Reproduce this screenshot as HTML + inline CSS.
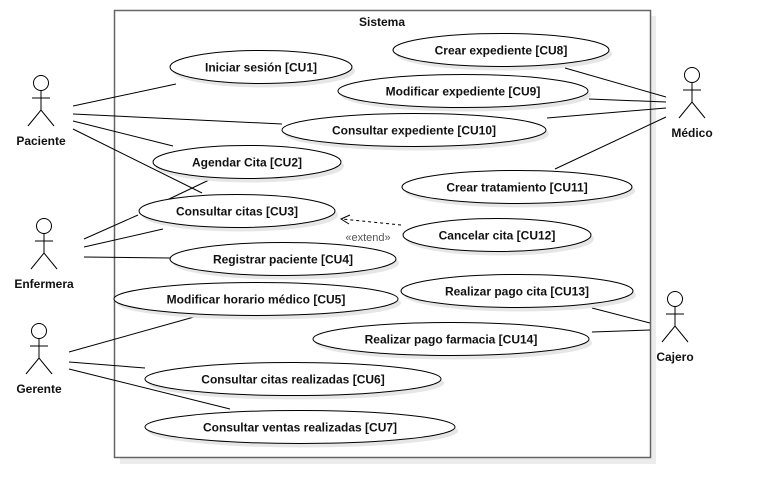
<!DOCTYPE html>
<html><head><meta charset="utf-8"><style>
html,body{margin:0;padding:0;background:#fff;}
svg text{font-family:"Liberation Sans",sans-serif;}
</style></head><body>
<svg width="759" height="498" viewBox="0 0 759 498" xmlns="http://www.w3.org/2000/svg">
<rect x="120" y="16" width="536" height="448" fill="#ececec"/>
<rect x="114.5" y="10.5" width="536" height="447" fill="#fff" stroke="#666" stroke-width="1.5"/>
<text x="382" y="26" text-anchor="middle" font-size="12" font-weight="bold" fill="#111">Sistema</text>
<g id="lines" stroke="#000" stroke-width="1" fill="none">
<line x1="73" y1="106" x2="176" y2="84"/>
<line x1="73" y1="114" x2="282" y2="124"/>
<line x1="73" y1="121" x2="173" y2="146"/>
<line x1="73" y1="129" x2="202" y2="193"/>
<line x1="84" y1="239" x2="138" y2="215"/>
<line x1="167" y1="200" x2="209" y2="180"/>
<line x1="84" y1="247" x2="163" y2="229"/>
<line x1="84" y1="257" x2="170" y2="258"/>
<line x1="69" y1="352" x2="194" y2="317"/>
<line x1="69" y1="362" x2="145" y2="368"/>
<line x1="69" y1="369" x2="230" y2="409"/>
<line x1="565" y1="68" x2="666" y2="97"/>
<line x1="589" y1="99" x2="666" y2="102"/>
<line x1="547" y1="118" x2="666" y2="108"/>
<line x1="555" y1="169" x2="666" y2="117"/>
<line x1="592" y1="308" x2="650" y2="323"/>
<line x1="592" y1="332" x2="650" y2="330"/>
</g>
<g id="ucs"></g>
<g>
<line x1="401" y1="225" x2="342" y2="219" stroke="#000" stroke-dasharray="3,3"/>
<polyline points="350,215 341,219 349,224" fill="none" stroke="#000"/>
<text x="368" y="241" text-anchor="middle" font-size="11" fill="#555">«extend»</text>
</g>
<g id="actors"></g>
</svg>
<script>
const ucLabels=["Iniciar sesión [CU1]","Crear expediente [CU8]","Modificar expediente [CU9]","Consultar expediente [CU10]","Agendar Cita [CU2]","Crear tratamiento [CU11]","Consultar citas [CU3]","Cancelar cita [CU12]","Registrar paciente [CU4]","Modificar horario médico [CU5]","Realizar pago cita [CU13]","Realizar pago farmacia [CU14]","Consultar citas realizadas [CU6]","Consultar ventas realizadas [CU7]"];
const ucCx=[261,501,463,414,247,517,237,497,283,256,517,451,293,300];
const ucCy=[67,50,91,130,162,187,211,235,259,299,291,339,379,427];
const ucRx=[91,108,125,132,94,115,98,94,113,142,116,138,148,155];
const actorNames=["Paciente","Enfermera","Gerente","Médico","Cajero"];
const actorX=[41,44,39,692,675];
const actorY=[83,226,331,75,299];
const NS="http://www.w3.org/2000/svg";
function mk(t,a,p){const e=document.createElementNS(NS,t);for(const k in a)e.setAttribute(k,a[k]);p.appendChild(e);return e;}
const ug=document.getElementById('ucs');
ucLabels.forEach((l,i)=>{
 const g=mk('g',{},ug);
 
 
 const s=mk('ellipse',{cx:ucCx[i]+3,cy:ucCy[i]+4,rx:ucRx[i],ry:16.5,fill:'#e6e6e6'},g);
 
 
 const e=mk('ellipse',{cx:ucCx[i],cy:ucCy[i],rx:ucRx[i],ry:16.5,fill:'#fff',stroke:'#000','stroke-width':1},g);
 
 
 const t=mk('text',{x:ucCx[i],y:ucCy[i]+4.5,'text-anchor':'middle','font-size':12,'font-weight':'bold',fill:'#111'},g);
 
 
 t.textContent=l;
});
const ag=document.getElementById('actors');
actorNames.forEach((n,i)=>{
 const x=actorX[i],y=actorY[i];
 const g=mk('g',{stroke:'#000',fill:'none','stroke-width':1},ag);
 
 
 mk('circle',{cx:x,cy:y,r:7.5,fill:'#fff'},g);
 mk('line',{x1:x,y1:y+7.5,x2:x,y2:y+27},g);
 mk('line',{x1:x-9,y1:y+15,x2:x+9,y2:y+15},g);
 mk('polyline',{points:(x-13)+','+(y+43)+' '+x+','+(y+27)+' '+(x+13)+','+(y+43)},g);
 const t=mk('text',{x:x,y:y+62,'text-anchor':'middle','font-size':12,'font-weight':'bold',fill:'#111',stroke:'none'},g);
 
 
 t.textContent=n;
});
</script>
</body></html>
